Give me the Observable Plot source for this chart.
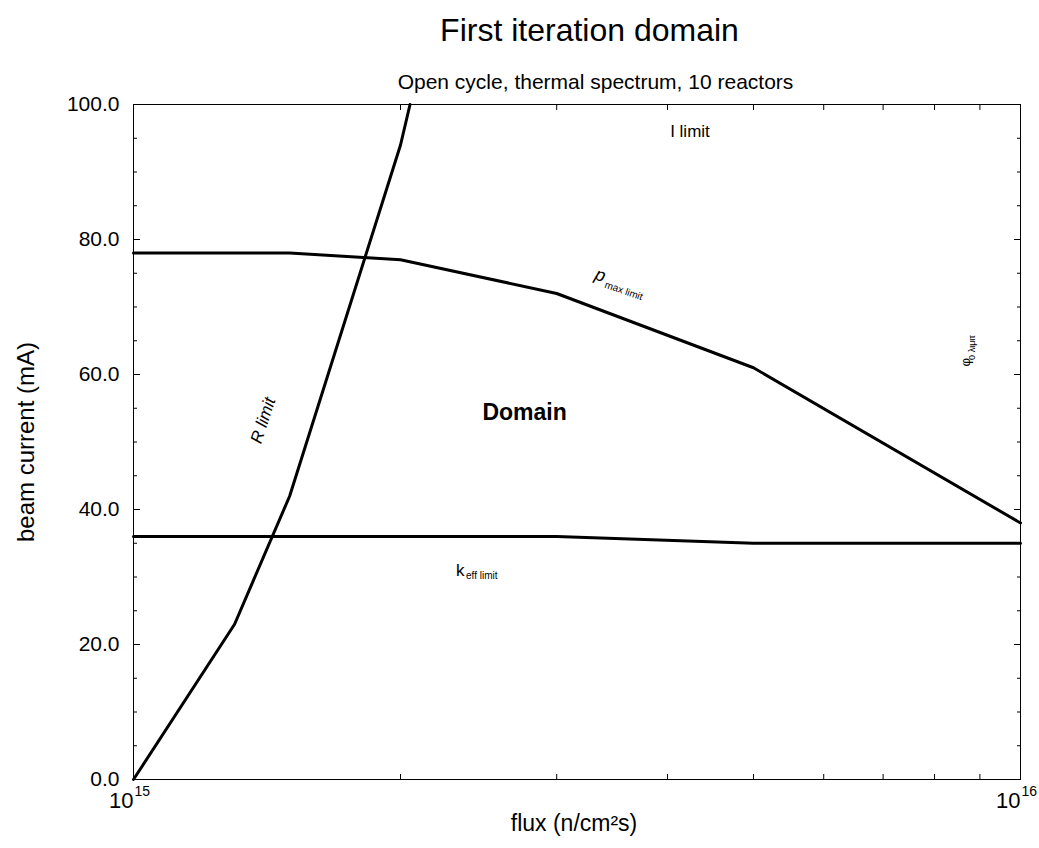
<!DOCTYPE html>
<html>
<head>
<meta charset="utf-8">
<script src="https://cdn.jsdelivr.net/npm/d3@7"></script>
<script src="https://cdn.jsdelivr.net/npm/@observablehq/plot@0.6"></script>
<style>
  body { margin: 0; background: #fff; font-family: "Liberation Sans", Arial, sans-serif; }
  #wrap { width: 1039px; overflow: hidden; }
  .title { margin-left: 146px; width: 887px; text-align: center; height: 60px; line-height: 60px; font-size: 32px; color: #000; white-space: nowrap; }
  .subtitle { margin-left: 152px; width: 887px; text-align: center; height: 25px; line-height: 26px; padding-top: 9px; font-size: 21px; color: #000; white-space: nowrap; }
</style>
</head>
<body>
<div id="wrap">
  <div class="title">First iteration domain</div>
  <div class="subtitle">Open cycle, thermal spectrum, 10 reactors</div>
  <div id="chart"></div>
</div>
<script>
// ---- data ----
const rLimitFlux    = [1e15, 1.3e15, 1.5e15, 2e15, 2.05e15];
const rLimitCurrent = [0, 23, 42, 94, 100];

const pmaxFlux    = [1e15, 1.5e15, 2e15, 3e15, 5e15, 1e16];
const pmaxCurrent = [78, 78, 77, 72, 61, 38];

const keffFlux    = [1e15, 3e15, 5e15, 1e16];
const keffCurrent = [36, 36, 35, 35];

const yMajorTicks = [0, 20, 40, 60, 80, 100];
const yMinorTicks = [5, 10, 15, 25, 30, 35, 45, 50, 55, 65, 70, 75, 85, 90, 95];
const xMajorTicks = [1e15, 1e16];
const xMinorTicks = [2e15, 3e15, 4e15, 5e15, 6e15, 7e15, 8e15, 9e15];

const toRows = (xs, ys) => xs.map((x, i) => ({flux: x, current: ys[i]}));
const rRows = toRows(rLimitFlux, rLimitCurrent);
const pRows = toRows(pmaxFlux, pmaxCurrent);
const kRows = toRows(keffFlux, keffCurrent);

const font = "Liberation Sans, Arial, sans-serif";

const chart = Plot.plot({
  width: 1039,
  height: 754,
  marginTop: 10,
  marginBottom: 69,
  marginLeft: 133,
  marginRight: 19,
  style: {fontFamily: font, color: "#000", background: "#fff", overflow: "visible"},
  x: {type: "log", domain: [1e15, 1e16], axis: null},
  y: {domain: [0, 100], axis: null},
  marks: [
    Plot.frame({stroke: "#000", strokeWidth: 1}),
    Plot.axisY(yMajorTicks, {anchor: "left", tickSize: -7, fill: "none", label: null}),
    Plot.axisY(yMajorTicks, {anchor: "right", tickSize: -7, fill: "none", label: null}),
    Plot.axisY(yMinorTicks, {anchor: "left", tickSize: -4, fill: "none", label: null}),
    Plot.axisY(yMinorTicks, {anchor: "right", tickSize: -4, fill: "none", label: null}),
    Plot.axisX(xMinorTicks, {anchor: "bottom", tickSize: -5, fill: "none", label: null}),
    Plot.axisX(xMinorTicks, {anchor: "top", tickSize: -5, fill: "none", label: null}),
    Plot.axisY(yMajorTicks, {anchor: "left", tickSize: 0, tickPadding: 14, fontSize: 21, tickFormat: d3.format(".1f"), label: null}),
    Plot.text(xMajorTicks, {x: d => d, text: () => "10", frameAnchor: "bottom", textAnchor: "end", lineAnchor: "bottom", dy: 28, fontSize: 22}),
    Plot.text(xMajorTicks, {x: d => d, text: d => String(Math.round(Math.log10(d))), frameAnchor: "bottom", textAnchor: "start", lineAnchor: "bottom", dx: 1, dy: 16, fontSize: 14}),
    Plot.text(["flux (n/cm²s)"], {frameAnchor: "bottom", text: d => d, textAnchor: "middle", dx: -3, dy: 51, fontSize: 23}),
    Plot.text(["beam current (mA)"], {frameAnchor: "left", text: d => d, textAnchor: "middle", dx: -107, rotate: -90, fontSize: 24}),
    Plot.line(rRows, {x: "flux", y: "current", stroke: "#000", strokeWidth: 3}),
    Plot.line(pRows, {x: "flux", y: "current", stroke: "#000", strokeWidth: 3}),
    Plot.line(kRows, {x: "flux", y: "current", stroke: "#000", strokeWidth: 3}),
    Plot.text(["I limit"], {x: 4.24e15, y: 96, text: d => d, fontSize: 17}),
    Plot.text(["Domain"], {x: 2.76e15, y: 54.4, text: d => d, fontSize: 23, fontWeight: "bold"}),
    Plot.text(["R limit"], {x: 1.40e15, y: 53.2, text: d => d, fontSize: 17, fontStyle: "italic", rotate: -72}),
    Plot.text(["k"], {x: 2.31e15, y: 31.0, text: d => d, fontSize: 17, textAnchor: "start"}),
    Plot.text(["eff limit"], {x: 2.31e15, y: 31.0, text: d => d, fontSize: 10, textAnchor: "start", dx: 10, dy: 6}),
    Plot.text(["p"], {x: 3.36e15, y: 74.7, text: d => d, fontSize: 18, fontStyle: "italic", rotate: 19}),
    Plot.text(["max limit"], {x: 3.57e15, y: 72.4, text: d => d, fontSize: 10, rotate: 19}),
    Plot.text(["φ"], {x: 8.67e15, y: 61.8, text: d => d, fontSize: 13, rotate: -90}),
    Plot.text(["0 λιμιτ"], {x: 8.83e15, y: 64.0, text: d => d, fontSize: 9, rotate: -90})
  ]
});
document.getElementById("chart").appendChild(chart);
</script>
</body>
</html>
